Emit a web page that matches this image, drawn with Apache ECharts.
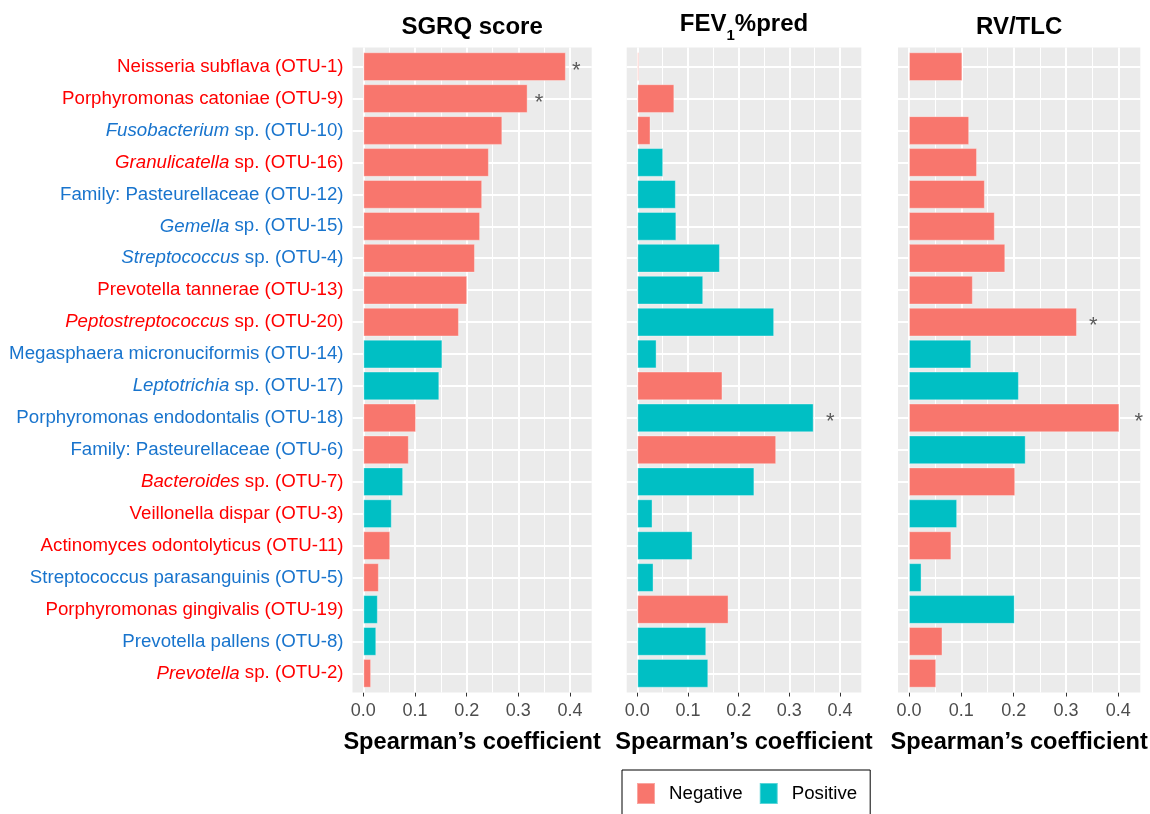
<!DOCTYPE html>
<html><head><meta charset="utf-8">
<script src="https://cdn.jsdelivr.net/npm/echarts@6/dist/echarts.min.js"></script>
<style>html,body{margin:0;padding:0;background:#fff}#c{width:1150px;height:814px}</style>
</head><body><div id="c"></div>
<script>
// ---------------- data ----------------
const categories = [
  'Neisseria subflava (OTU-1)', 'Porphyromonas catoniae (OTU-9)', 'Fusobacterium sp. (OTU-10)',
  'Granulicatella sp. (OTU-16)', 'Family: Pasteurellaceae (OTU-12)', 'Gemella sp. (OTU-15)',
  'Streptococcus sp. (OTU-4)', 'Prevotella tannerae (OTU-13)', 'Peptostreptococcus sp. (OTU-20)',
  'Megasphaera micronuciformis (OTU-14)', 'Leptotrichia sp. (OTU-17)', 'Porphyromonas endodontalis (OTU-18)',
  'Family: Pasteurellaceae (OTU-6)', 'Bacteroides sp. (OTU-7)', 'Veillonella dispar (OTU-3)',
  'Actinomyces odontolyticus (OTU-11)', 'Streptococcus parasanguinis (OTU-5)', 'Porphyromonas gingivalis (OTU-19)',
  'Prevotella pallens (OTU-8)', 'Prevotella sp. (OTU-2)'
];
const italicGenus = ['', '', 'Fusobacterium', 'Granulicatella', '', 'Gemella', 'Streptococcus', '', 'Peptostreptococcus',
  '', 'Leptotrichia', '', '', 'Bacteroides', '', '', '', '', '', 'Prevotella'];
const labelColor = ['r','r','b','r','b','b','b','r','r','b','b','b','b','r','r','r','b','r','b','r'];

const sgrqValues = [0.392,0.318,0.269,0.243,0.230,0.226,0.216,0.201,0.185,0.153,0.147,0.102,0.088,0.077,0.055,0.052,0.030,0.028,0.025,0.015];
const sgrqSign   = ['N','N','N','N','N','N','N','N','N','P','P','N','N','P','P','N','N','P','P','N'];
const sgrqStars  = [[0.412, 0], [0.340, 1]];

const fevValues = [0.003,0.073,0.026,0.051,0.076,0.077,0.163,0.130,0.270,0.038,0.168,0.348,0.274,0.231,0.030,0.109,0.032,0.180,0.136,0.140];
const fevSign   = ['N','N','N','P','P','P','P','P','P','P','N','P','N','P','P','P','P','N','P','P'];
const fevStars  = [[0.381, 11]];

const rvValues = [0.102,0.002,0.115,0.130,0.145,0.164,0.184,0.122,0.321,0.119,0.210,0.402,0.223,0.203,0.092,0.081,0.024,0.202,0.064,0.052];
const rvSign   = ['N','N','N','N','N','N','N','N','N','P','P','N','P','N','P','N','P','P','N','N'];
const rvStars  = [[0.352, 8], [0.439, 11]];

const xTicks = [0, 0.1, 0.2, 0.3, 0.4];
const xMinor = [0.05, 0.15, 0.25, 0.35];
const xMin = -0.021, xMax = 0.442;
const legendNames = ['Negative', 'Positive'];

// ---------------- layout / style ----------------
const FONT = 'Liberation Sans, Arial, sans-serif';
const NEG = '#F8766D', POS = '#00BFC4';
const panels = [
  {title: 'SGRQ score', values: sgrqValues, signs: sgrqSign, stars: sgrqStars, left: 352.5, width: 239.2},
  {title: 'FEV1%pred', values: fevValues, signs: fevSign, stars: fevStars, left: 626.7, width: 234.6},
  {title: 'RV/TLC', values: rvValues, signs: rvSign, stars: rvStars, left: 898.0, width: 242.3}
];
const bgTop = 47.5, bgH = 645;
const band = 31.93;
const dataTop = bgTop + 0.1 * band, dataH = 20 * band;
const LBL = 18.7;

const grid = [], xAxis = [], yAxis = [], series = [], graphic = [];

panels.forEach((p, k) => {
  grid.push({left: p.left, top: bgTop, width: p.width, height: bgH, show: true,
    backgroundColor: '#EBEBEB', borderWidth: 0, containLabel: false, outerBoundsMode: 'none'});
});
panels.forEach((p, k) => {
  grid.push({left: p.left, top: dataTop, width: p.width, height: dataH, show: false,
    containLabel: false, outerBoundsMode: 'none'});
});

panels.forEach((p, k) => {
  xAxis.push({type: 'value', gridIndex: k, min: xMin, max: xMax,
    axisLine: {show: false}, splitLine: {show: false},
    axisTick: {show: true, customValues: xTicks, length: 4, lineStyle: {color: '#333', width: 1}},
    axisLabel: {show: true, customValues: xTicks, margin: 10, color: '#4D4D4D', fontSize: 18, fontFamily: FONT,
      formatter: v => v.toFixed(1)},
    name: 'Spearman\u2019s coefficient', nameLocation: 'middle', nameGap: 38,
    nameTextStyle: {fontSize: 23.6, fontWeight: 'bold', color: '#000', fontFamily: FONT}
  });
  yAxis.push({type: 'value', gridIndex: k, min: 0, max: 1, show: false});
});

panels.forEach((p, k) => {
  xAxis.push({type: 'value', gridIndex: 3 + k, min: xMin, max: xMax, show: false});
  yAxis.push({type: 'category', gridIndex: 3 + k, data: categories, inverse: true,
    axisLine: {show: false}, splitLine: {show: false},
    axisTick: {show: true, alignWithLabel: true, length: 4, lineStyle: {color: '#333', width: 1}},
    axisLabel: {show: k === 0, margin: 9, fontFamily: FONT, fontSize: LBL,
      formatter: (value) => {
        const i = categories.indexOf(value);
        const c = labelColor[i];
        const g = italicGenus[i];
        if (g) return '{' + c + 'i|' + g + '}{' + c + '|' + value.slice(g.length) + '}';
        return '{' + c + '|' + value + '}';
      },
      rich: {
        r: {color: '#FF0000', fontSize: LBL, fontFamily: FONT},
        ri: {color: '#FF0000', fontSize: LBL, fontFamily: FONT, fontStyle: 'italic'},
        b: {color: '#1874CD', fontSize: LBL, fontFamily: FONT},
        bi: {color: '#1874CD', fontSize: LBL, fontFamily: FONT, fontStyle: 'italic'}
      }
    }
  });
});

// vertical grid lines (background grid)
panels.forEach((p, k) => {
  series.push({type: 'line', xAxisIndex: k, yAxisIndex: k, data: [], silent: true,
    markLine: {z: 1, silent: true, symbol: ['none', 'none'], animation: false, label: {show: false},
      emphasis: {disabled: true},
      data: xMinor.map(v => ({xAxis: v, lineStyle: {color: '#FFFFFF', width: 1, type: 'solid'}}))
        .concat(xTicks.map(v => ({xAxis: v, lineStyle: {color: '#FFFFFF', width: 2, type: 'solid'}})))
    }
  });
});

// bars + horizontal grid lines + stars
panels.forEach((p, k) => {
  const ax = 3 + k;
  series.push({type: 'bar', name: legendNames[0], xAxisIndex: ax, yAxisIndex: ax, stack: 's' + k,
    barWidth: '90%', z: 3, animation: false,
    itemStyle: {color: NEG, borderColor: 'rgba(255,255,255,0.35)', borderWidth: 1},
    data: p.values.map((v, i) => p.signs[i] === 'N' ? v : '-'),
    markLine: {z: 1, silent: true, symbol: ['none', 'none'], animation: false, label: {show: false},
      emphasis: {disabled: true},
      data: categories.map(c => ({yAxis: c, lineStyle: {color: '#FFFFFF', width: 2, type: 'solid'}}))
    }
  });
  series.push({type: 'bar', name: legendNames[1], xAxisIndex: ax, yAxisIndex: ax, stack: 's' + k,
    barWidth: '90%', z: 3, animation: false,
    itemStyle: {color: POS, borderColor: 'rgba(255,255,255,0.35)', borderWidth: 1},
    data: p.values.map((v, i) => p.signs[i] === 'P' ? v : '-')
  });
  series.push({type: 'scatter', xAxisIndex: ax, yAxisIndex: ax, symbolSize: 1, z: 4, silent: true,
    itemStyle: {color: 'rgba(0,0,0,0)'}, animation: false,
    label: {show: true, position: 'inside', formatter: '*', fontSize: 22, color: '#333', fontFamily: FONT, offset: [0, 4]},
    data: p.stars.map(s => [s[0], categories[s[1]]])
  });
  const cx = p.left + p.width / 2;
  if (k === 1) {
    graphic.push({type: 'text', x: cx, y: 12, style: {
      text: '{b|FEV}{s|1}{b|%pred}', align: 'center', verticalAlign: 'top',
      rich: {b: {fontSize: 24, fontWeight: 'bold', fill: '#000', fontFamily: FONT, lineHeight: 30, verticalAlign: 'top'},
             s: {fontSize: 15, fontWeight: 'bold', fill: '#000', fontFamily: FONT, lineHeight: 15, padding: [16, 0, 0, 0], verticalAlign: 'top'}}
    }});
  } else {
    graphic.push({type: 'text', x: cx, y: 12, style: {
      text: p.title, align: 'center', verticalAlign: 'top',
      font: 'bold 24px ' + FONT, fill: '#000', lineHeight: 30
    }});
  }
});

const chart = echarts.init(document.getElementById('c'), null, {renderer: 'canvas'});
chart.setOption({
  animation: false,
  backgroundColor: '#FFFFFF',
  grid, xAxis, yAxis, series, graphic,
  legend: {data: legendNames, left: 622, top: 770, orient: 'horizontal',
    itemWidth: 18, itemHeight: 21, itemGap: 16, padding: [12, 13, 12, 14],
    borderColor: '#000', borderWidth: 1, borderRadius: 0,
    icon: 'rect',
    textStyle: {fontSize: 18.7, color: '#000', fontFamily: FONT, padding: [0, 0, 0, 9]}
  }
});
</script></body></html>
